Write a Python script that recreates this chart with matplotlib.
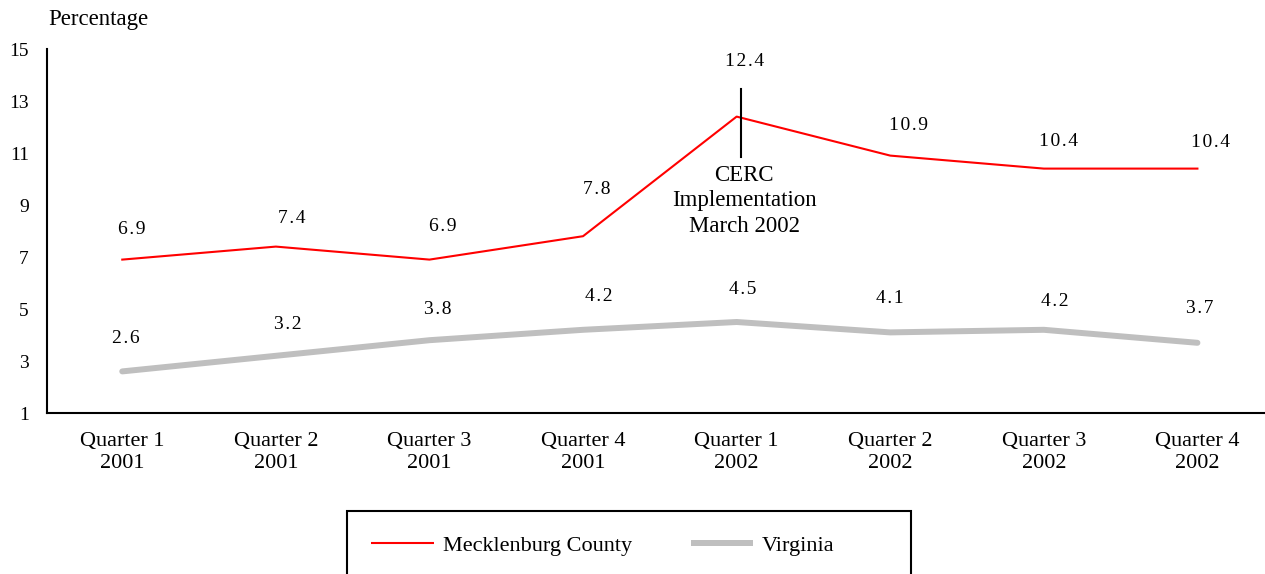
import matplotlib
matplotlib.use('Agg')
import matplotlib.pyplot as plt
from matplotlib.patches import Rectangle

quarters = ["Quarter 1\n2001", "Quarter 2\n2001", "Quarter 3\n2001", "Quarter 4\n2001",
            "Quarter 1\n2002", "Quarter 2\n2002", "Quarter 3\n2002", "Quarter 4\n2002"]
mecklenburg = [6.9, 7.4, 6.9, 7.8, 12.4, 10.9, 10.4, 10.4]
virginia = [2.6, 3.2, 3.8, 4.2, 4.5, 4.1, 4.2, 3.7]
y_ticks = [1, 3, 5, 7, 9, 11, 13, 15]

# label placement (pixel offsets from each point), as they sit in the original
red_offsets = [(9, 30), (16, 28), (13, 33), (14, 47), (8, 55), (18, 30), (15, 27), (13, 26)]
grey_offsets = [(4, 33), (12, 31), (8, 31), (16, 33), (6, 32), (0, 34), (11, 28), (2, 34)]

plt.rcParams['font.family'] = ['Liberation Serif', 'DejaVu Serif']

fig = plt.figure(figsize=(12.65, 5.74), dpi=100)
ax = fig.add_axes([47 / 1265, 1 - 413 / 574, 1 - 47 / 1265, (413 - 49) / 574])

x = list(range(len(quarters)))
ax.plot(x, virginia, color='#bfbfbf', lw=4.3, label='Virginia', solid_capstyle='round')
ax.plot(x, mecklenburg, color='#ff0000', lw=1.5, label='Mecklenburg County')

# value labels, a little letter-spaced like the original
hs = '\u200a'
def spaced(v):
    return hs.join('%.1f' % v)

for xi, v, off in zip(x, mecklenburg, red_offsets):
    ax.annotate(spaced(v), (xi, v), xytext=off, textcoords='offset pixels',
                ha='center', va='center', fontsize=14)
for xi, v, off in zip(x, virginia, grey_offsets):
    ax.annotate(spaced(v), (xi, v), xytext=off, textcoords='offset pixels',
                ha='center', va='center', fontsize=14)

# CERC annotation
ax.plot([4.03, 4.03], [10.85, 13.45], color='black', lw=1.5)
ax.text(4.05, 10.55, 'CERC\nImplementation\nMarch 2002', ha='center', va='top',
        fontsize=16.5, linespacing=1.3)

ax.set_xlim(-0.49, 7.44)
ax.set_ylim(1, 15)
ax.set_yticks(y_ticks)
ax.set_xticks(x)
ax.set_xticklabels(quarters, fontsize=16, linespacing=1.15)
ax.tick_params(axis='both', length=0)
ax.tick_params(axis='y', pad=13, labelsize=14)
ax.tick_params(axis='x', pad=14)
for s in ['top', 'right']:
    ax.spines[s].set_visible(False)
for s in ['left', 'bottom']:
    ax.spines[s].set_linewidth(1.5)

fig.text(48 / 1265, 1 - 20 / 574, 'Percentage', ha='left', va='center', fontsize=16.5)

handles, labels = ax.get_legend_handles_labels()
leg = fig.legend(handles[::-1], labels[::-1], loc='upper left', ncol=2,
                 bbox_to_anchor=(347 / 1265, 1 - 511 / 574), fontsize=16,
                 frameon=False, borderpad=1.1, borderaxespad=0,
                 handlelength=2.8, columnspacing=2.65, handletextpad=0.4)
for ln in leg.get_lines():
    ln.set_solid_capstyle('butt')

# legend box runs off the bottom of the picture
fig.add_artist(Rectangle((347 / 1265, -0.1), (911 - 347) / 1265, 0.1 + 1 - 511 / 574,
                         transform=fig.transFigure, fill=False, ec='black', lw=1.5))

plt.savefig('out.png', dpi=100)
